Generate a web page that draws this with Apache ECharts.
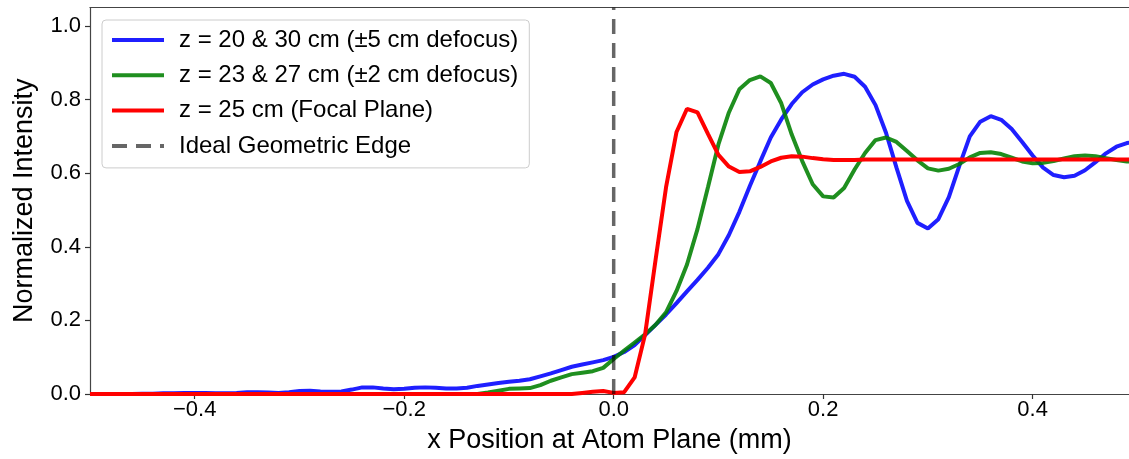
<!DOCTYPE html>
<html>
<head>
<meta charset="utf-8">
<script src="https://cdn.jsdelivr.net/npm/echarts@6/dist/echarts.min.js"></script>
<style>
html,body{margin:0;padding:0;background:#fff;}
#chart{width:1129px;height:459px;}
</style>
</head>
<body>
<div id="chart"></div>
<script>
// x positions at the atom plane (mm)
const xPos = [
-0.50,-0.49,-0.48,-0.47,-0.46,-0.45,-0.44,-0.43,-0.42,-0.41,
-0.40,-0.39,-0.38,-0.37,-0.36,-0.35,-0.34,-0.33,-0.32,-0.31,
-0.30,-0.29,-0.28,-0.27,-0.26,-0.25,-0.24,-0.23,-0.22,-0.21,
-0.20,-0.19,-0.18,-0.17,-0.16,-0.15,-0.14,-0.13,-0.12,-0.11,
-0.10,-0.09,-0.08,-0.07,-0.06,-0.05,-0.04,-0.03,-0.02,-0.01,
0.00,0.01,0.02,0.03,0.04,0.05,0.06,0.07,0.08,0.09,
0.10,0.11,0.12,0.13,0.14,0.15,0.16,0.17,0.18,0.19,
0.20,0.21,0.22,0.23,0.24,0.25,0.26,0.27,0.28,0.29,
0.30,0.31,0.32,0.33,0.34,0.35,0.36,0.37,0.38,0.39,
0.40,0.41,0.42,0.43,0.44,0.45,0.46,0.47,0.48,0.49,0.50];

// z = 20 & 30 cm (±5 cm defocus)
const blueVals = [
0,0,0,0,0,0.001,0.001,0.002,0.002,0.003,
0.003,0.003,0.002,0.002,0.003,0.005,0.005,0.004,0.003,0.005,
0.008,0.009,0.007,0.006,0.007,0.012,0.018,0.018,0.015,0.013,
0.014,0.017,0.018,0.017,0.015,0.015,0.017,0.022,0.026,0.030,
0.033,0.036,0.040,0.048,0.056,0.065,0.074,0.080,0.086,0.092,
0.101,0.114,0.133,0.160,0.188,0.216,0.247,0.279,0.310,0.343,
0.380,0.432,0.495,0.565,0.632,0.697,0.746,0.788,0.820,0.841,
0.855,0.865,0.870,0.862,0.835,0.785,0.710,0.615,0.525,0.465,
0.450,0.475,0.535,0.620,0.700,0.740,0.755,0.745,0.720,0.685,
0.648,0.615,0.595,0.589,0.593,0.608,0.630,0.654,0.672,0.682,0.687];

// z = 23 & 27 cm (±2 cm defocus)
const greenVals = [
0,0,0,0,0,0,0,0,0,0,
0,0,0,0,0,0,0,0,0,0,
0,0,0,0,0,0,0,0,0,0,
0,0,0,0,0,0,0,0,0.004,0.009,
0.014,0.015,0.016,0.024,0.036,0.045,0.054,0.058,0.062,0.071,
0.095,0.118,0.140,0.162,0.188,0.222,0.280,0.352,0.448,0.562,
0.678,0.765,0.828,0.853,0.863,0.845,0.790,0.705,0.633,0.570,
0.537,0.534,0.560,0.610,0.655,0.690,0.697,0.685,0.660,0.635,
0.613,0.607,0.612,0.625,0.643,0.655,0.657,0.652,0.642,0.632,
0.627,0.628,0.633,0.640,0.646,0.648,0.646,0.641,0.636,0.632,0.630];

// z = 25 cm (Focal Plane)
const redVals = [
0,0,0,0,0,0,0,0,0,0,
0,0,0,0,0,0,0,0,0,0,
0,0,0,0,0,0,0,0,0,0,
0,0,0,0,0,0,0,0,0,0,
0,0,0,0,0,0,0,0.003,0.006,0.008,
0.003,0.005,0.045,0.162,0.365,0.562,0.712,0.775,0.765,0.707,
0.650,0.618,0.603,0.605,0.617,0.632,0.642,0.646,0.645,0.641,
0.638,0.636,0.636,0.636,0.637,0.637,0.637,0.637,0.637,0.637,
0.637,0.637,0.637,0.637,0.637,0.637,0.637,0.637,0.637,0.637,
0.637,0.637,0.637,0.637,0.637,0.637,0.637,0.637,0.637,0.637,0.637];

// Ideal geometric edge
const edgeX = [0, 0];
const edgeY = [0, 1.05];

const seriesNames = [
  'z = 20 & 30 cm (\u00b15 cm defocus)',
  'z = 23 & 27 cm (\u00b12 cm defocus)',
  'z = 25 cm (Focal Plane)',
  'Ideal Geometric Edge'
];
const xTicks = [-0.4, -0.2, 0.0, 0.2, 0.4];
const yTicks = [0.0, 0.2, 0.4, 0.6, 0.8, 1.0];

const FONT = '"Liberation Sans", Arial, Helvetica, sans-serif';
const SPINE = '#444';
function pairs(xs, ys){ return xs.map((x,i)=>[x, ys[i]]); }
function fmt(v){ return (v < 0 ? '\u2212' : '') + Math.abs(v).toFixed(1); }

const chart = echarts.init(document.getElementById('chart'), null, {renderer:'canvas'});
const lineSeries = (name, vals, color) => ({
  name, type:'line', data: pairs(xPos, vals), symbol:'none', showSymbol:false,
  lineStyle:{color, width:4}, itemStyle:{color}, animation:false, clip:true
});
chart.setOption({
  animation:false,
  textStyle:{fontFamily:FONT},
  grid:{left:90, right:0, top:7.6, bottom:65, show:false},
  xAxis:[{
    type:'value', min:-0.5, max:0.492, position:'bottom',
    name:'x Position at Atom Plane (mm)', nameLocation:'middle', nameGap:33,
    nameTextStyle:{fontSize:27, color:'#000', fontFamily:FONT},
    axisLine:{show:true, onZero:false, lineStyle:{color:SPINE, width:1.2}},
    axisTick:{show:true, customValues:xTicks, length:5, inside:false, lineStyle:{color:'#333', width:1.2}},
    axisLabel:{customValues:xTicks, formatter:fmt, fontSize:22, color:'#000', margin:5, fontFamily:FONT},
    splitLine:{show:false}
  },{
    type:'value', min:-0.5, max:0.492, position:'top',
    axisLine:{show:true, onZero:false, lineStyle:{color:SPINE, width:1.2}},
    axisTick:{show:false}, axisLabel:{show:false}, splitLine:{show:false}
  }],
  yAxis:{
    type:'value', min:0, max:1.05,
    name:'Normalized Intensity', nameLocation:'middle', nameGap:52, nameRotate:90,
    nameTextStyle:{fontSize:27, color:'#000', fontFamily:FONT},
    axisLine:{show:true, onZero:false, lineStyle:{color:SPINE, width:1.2}},
    axisTick:{show:true, customValues:yTicks, length:5, inside:false, lineStyle:{color:'#333', width:1.2}},
    axisLabel:{customValues:yTicks, formatter:v=>v.toFixed(1), fontSize:22, color:'#000', margin:9, fontFamily:FONT},
    splitLine:{show:false}
  },
  legend:{
    orient:'vertical', left:102, top:20,
    data:seriesNames,
    itemWidth:52, itemHeight:24, itemGap:11.3,
    padding:[8,11,10,8],
    backgroundColor:'rgba(255,255,255,0.8)', borderColor:'#cccccc', borderWidth:1, borderRadius:4,
    itemStyle:{color:'rgba(0,0,0,0)', borderWidth:0, opacity:0},
    lineStyle:{width:4},
    textStyle:{fontSize:24, color:'#000', fontFamily:FONT, padding:[0,0,0,10], lineHeight:24},
    selectedMode:false
  },
  series:[
    lineSeries(seriesNames[0], blueVals, 'rgba(0,0,255,0.88)'),
    lineSeries(seriesNames[1], greenVals, 'rgba(0,128,0,0.88)'),
    lineSeries(seriesNames[2], redVals, '#ff0000'),
    {
      name:seriesNames[3], type:'line', data:pairs(edgeX, edgeY), symbol:'none', showSymbol:false,
      lineStyle:{color:'rgba(0,0,0,0.6)', width:3.5, type:[15,9]}, itemStyle:{color:'rgba(0,0,0,0.6)'},
      animation:false, z:3
    }
  ]
});
</script>
</body>
</html>
